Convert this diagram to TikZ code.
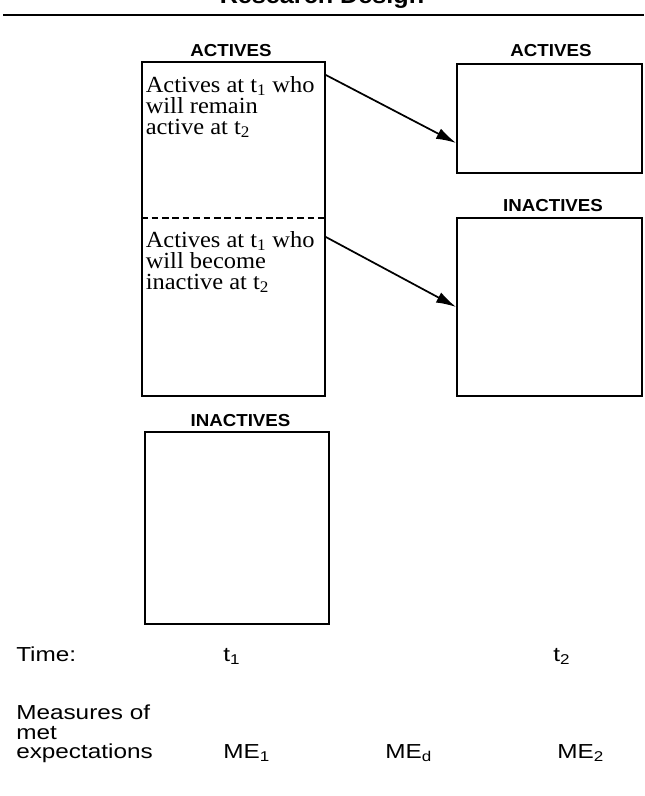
\documentclass[tikz,border=0pt]{standalone}
\usepackage{fontspec}
\setmainfont{Liberation Serif}[FakeStretch=1.06]
\newfontfamily\hv{Liberation Sans}[FakeStretch=1.08]
\newfontfamily\hvr{Liberation Sans}[FakeStretch=1.2]
\usetikzlibrary{arrows.meta,fit}
\begin{document}
\begin{tikzpicture}[x=0.75pt,y=-0.75pt,
  boxst/.style={draw,line width=1.3pt,inner sep=0pt},
  lbl/.style={anchor=base,inner sep=0pt,font=\hv\bfseries\fontsize{13}{14}\selectfont},
  btxt/.style={anchor=base west,inner sep=0pt,font=\fontsize{17.3}{15.75}\selectfont},
  ftxt/.style={anchor=base west,inner sep=0pt,font=\hvr\fontsize{15.2}{19.5}\selectfont},
  arr/.style={line width=1.3pt,-{Latex[length=15pt,width=8.5pt]}}]
\useasboundingbox (0,0) rectangle (644,796);
% title
\node[anchor=base,inner sep=0pt,font=\hv\bfseries\fontsize{17.5}{18}\selectfont] (title) at (322,3.5) {Research Design};
\draw[line width=1.6pt] (3,15) coordinate (rl) -- (644,15) coordinate (rr);
% boxes
\node[boxst,fit={(142,62) (325,396)}] (lA) {};
\node[boxst,fit={(457,64) (642,173)}] (rA) {};
\node[boxst,fit={(457,218) (642,396)}] (rI) {};
\node[boxst,fit={(145,432) (329,624)}] (lI) {};
\draw[line width=1pt,dash pattern=on 5pt off 2.8pt] (lA.west |- 0,218) -- (lA.east |- 0,218);
% labels
\node[lbl] (lAl) at (231,56.5) {ACTIVES};
\node[lbl] (rAl) at (551,56) {ACTIVES};
\node[lbl] (rIl) at (553,211.5) {INACTIVES};
\node[lbl] (lIl) at (240.5,426) {INACTIVES};
% box texts
\node[btxt] (ta1) at (145.5,92) {Actives at t\textsubscript{1} who};
\node[btxt] (ta2) at (145.5,113) {will remain};
\node[btxt] (ta3) at (145.5,134) {active at t\textsubscript{2}};
\node[btxt] (tb1) at (145.5,247) {Actives at t\textsubscript{1} who};
\node[btxt] (tb2) at (145.5,268) {will become};
\node[btxt] (tb3) at (145.5,289) {inactive at t\textsubscript{2}};
% arrows
\draw[arr] (lA.east |- 0,75) -- (rA.west |- 0,143);
\draw[arr] (lA.east |- 0,237) -- (rI.west |- 0,307);
% bottom
\node[ftxt] (time) at (16,661) {Time:};
\node[ftxt] (tt1) at (223,661) {t\textsubscript{1}};
\node[ftxt] (tt2) at (553,661) {t\textsubscript{2}};
\node[ftxt] (meas1) at (16,719) {Measures of};
\node[ftxt] (meas2) at (16,739) {met};
\node[ftxt] (meas3) at (16,758) {expectations};
\node[ftxt] (me1) at (223,758) {ME\textsubscript{1}};
\node[ftxt] (med) at (385,758) {ME\textsubscript{d}};
\node[ftxt] (me2) at (557,758) {ME\textsubscript{2}};
\end{tikzpicture}
\end{document}
